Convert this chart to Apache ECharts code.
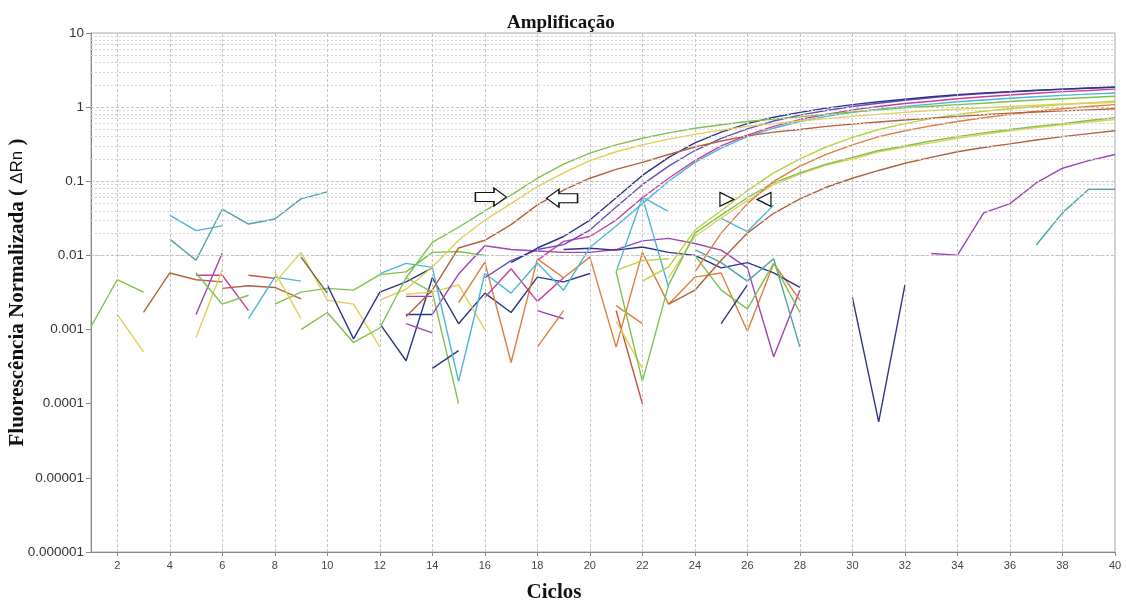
<!DOCTYPE html>
<html>
<head>
<meta charset="utf-8">
<title>Amplificação</title>
<script src="https://cdn.jsdelivr.net/npm/echarts@6/dist/echarts.min.js"></script>
<style>
  html, body { margin: 0; padding: 0; background: #fff; }
  #chart { width: 1126px; height: 600px; }
</style>
</head>
<body>
<div id="chart"></div>
<script>
// ticks dos eixos
const xTicks = [2, 4, 6, 8, 10, 12, 14, 16, 18, 20, 22, 24, 26, 28, 30, 32, 34, 36, 38, 40];
const yTickLabels = ['0.000001', '0.00001', '0.0001', '0.001', '0.01', '0.1', '1', '10'];

// curvas de amplificação  [ciclo, ΔRn]
const ampGreen = [[9,0.001],[10,0.0017],[11,0.00067],[12,0.00105],[13,0.005],[14,0.015],[15,0.024],[16,0.04],[17,0.065],[18,0.11],[19,0.17],[20,0.24],[21,0.31],[22,0.38],[23,0.45],[24,0.52],[25,0.58],[26,0.64],[27,0.69],[28,0.74],[29,0.8],[30,0.86],[31,0.92],[32,0.98],[33,1.03],[34,1.08],[35,1.13],[36,1.19],[37,1.25],[38,1.3],[39,1.35],[40,1.4]];
const ampYellow = [[12,0.0025],[13,0.0035],[14,0.007],[15,0.016],[16,0.03],[17,0.05],[18,0.085],[19,0.13],[20,0.19],[21,0.25],[22,0.31],[23,0.37],[24,0.43],[25,0.49],[26,0.55],[27,0.6],[28,0.65],[29,0.7],[30,0.75],[31,0.8],[32,0.85],[33,0.9],[34,0.94],[35,0.98],[36,1.02],[37,1.06],[38,1.1],[39,1.13],[40,1.16]];
const ampBrown = [[13,0.0015],[14,0.0034],[15,0.0126],[16,0.016],[17,0.026],[18,0.048],[19,0.076],[20,0.11],[21,0.145],[22,0.18],[23,0.23],[24,0.29],[25,0.35],[26,0.41],[27,0.46],[28,0.5],[29,0.55],[30,0.59],[31,0.63],[32,0.67],[33,0.71],[34,0.75],[35,0.79],[36,0.83],[37,0.86],[38,0.89],[39,0.92],[40,0.95]];
const ampNavy = [[17,0.008],[18,0.0126],[19,0.018],[20,0.03],[21,0.06],[22,0.12],[23,0.21],[24,0.33],[25,0.46],[26,0.6],[27,0.73],[28,0.85],[29,0.97],[30,1.08],[31,1.18],[32,1.28],[33,1.38],[34,1.47],[35,1.55],[36,1.62],[37,1.69],[38,1.75],[39,1.81],[40,1.87]];
const ampViolet = [[16,0.005],[17,0.0085],[18,0.012],[19,0.014],[20,0.022],[21,0.045],[22,0.09],[23,0.16],[24,0.26],[25,0.38],[26,0.51],[27,0.65],[28,0.78],[29,0.9],[30,1.02],[31,1.13],[32,1.24],[33,1.34],[34,1.44],[35,1.52],[36,1.6],[37,1.67],[38,1.74],[39,1.8],[40,1.85]];
const ampMagenta = [[18,0.0086],[19,0.0155],[20,0.018],[21,0.03],[22,0.06],[23,0.11],[24,0.19],[25,0.3],[26,0.42],[27,0.55],[28,0.68],[29,0.8],[30,0.92],[31,1.02],[32,1.12],[33,1.2],[34,1.3],[35,1.38],[36,1.46],[37,1.54],[38,1.62],[39,1.68],[40,1.75]];
const ampCyan = [[12,0.0057],[13,0.0078],[14,0.0069],[15,0.0002],[16,0.0057],[17,0.0031],[18,0.0079],[19,0.0034],[20,0.0128],[21,0.025],[22,0.05],[23,0.1],[24,0.18],[25,0.28],[26,0.4],[27,0.52],[28,0.64],[29,0.75],[30,0.85],[31,0.94],[32,1.02],[33,1.1],[34,1.18],[35,1.25],[36,1.32],[37,1.38],[38,1.44],[39,1.5],[40,1.55]];
const lateYellowGreen = [[22,0.0045],[23,0.007],[24,0.022],[25,0.04],[26,0.075],[27,0.13],[28,0.2],[29,0.29],[30,0.39],[31,0.5],[32,0.6],[33,0.7],[34,0.8],[35,0.88],[36,0.95],[37,1.02],[38,1.08],[39,1.14],[40,1.2]];
const lateOrange = [[24,0.006],[25,0.02],[26,0.05],[27,0.1],[28,0.16],[29,0.23],[30,0.31],[31,0.4],[32,0.48],[33,0.56],[34,0.64],[35,0.72],[36,0.8],[37,0.88],[38,0.95],[39,1.02],[40,1.08]];
const lateGreen = [[21,0.006],[22,0.0002],[23,0.004],[24,0.02],[25,0.035],[26,0.06],[27,0.095],[28,0.13],[29,0.17],[30,0.21],[31,0.26],[32,0.3],[33,0.35],[34,0.4],[35,0.45],[36,0.5],[37,0.55],[38,0.6],[39,0.66],[40,0.72]];
const lateYellow = [[23,0.005],[24,0.018],[25,0.032],[26,0.055],[27,0.09],[28,0.125],[29,0.165],[30,0.2],[31,0.25],[32,0.29],[33,0.33],[34,0.38],[35,0.43],[36,0.48],[37,0.53],[38,0.58],[39,0.63],[40,0.68]];
const lateBrown = [[23,0.0022],[24,0.0034],[25,0.0086],[26,0.02],[27,0.037],[28,0.058],[29,0.083],[30,0.11],[31,0.14],[32,0.175],[33,0.21],[34,0.25],[35,0.285],[36,0.32],[37,0.36],[38,0.4],[39,0.44],[40,0.48]];
const latePurple = [[33,0.0106],[34,0.0101],[35,0.0375],[36,0.05],[37,0.095],[38,0.15],[39,0.19],[40,0.23]];
const lateCyan = [[37,0.0138],[38,0.0375],[39,0.078],[40,0.078]];

// ruído da linha de base
const noise01 = [[1,0.0011],[2,0.0047],[3,0.0032]];
const noise02 = [[2,0.0016],[3,0.0005]];
const noise03 = [[3,0.0017],[4,0.0058],[5,0.0047],[6,0.0044]];
const noise04 = [[4,0.035],[5,0.0216],[6,0.025]];
const noise05 = [[4,0.0166],[5,0.0086],[6,0.042],[7,0.0265],[8,0.031],[9,0.058],[10,0.072]];
const noise06 = [[5,0.0016],[6,0.0108]];
const noise07 = [[5,0.0054],[6,0.0054],[7,0.0018]];
const noise08 = [[5,0.00078],[6,0.0064]];
const noise09 = [[5,0.0058],[6,0.0022],[7,0.0029]];
const noise10 = [[6,0.0036],[7,0.0039],[8,0.0037],[9,0.0026]];
const noise11 = [[7,0.0014],[8,0.0051],[9,0.0045]];
const noise12 = [[7,0.0054],[8,0.0049]];
const noise13 = [[8,0.0022],[9,0.0032],[10,0.0036],[11,0.0034],[12,0.0055],[13,0.006],[14,0.011],[15,0.0113],[16,0.01]];
const noise14 = [[8,0.0043],[9,0.011],[10,0.0025],[11,0.0022],[12,0.00058]];
const noise15 = [[9,0.0095],[10,0.0031]];
const noise16 = [[8,0.006],[9,0.0014]];
const noise17 = [[10,0.004],[11,0.00075],[12,0.0032],[13,0.0044],[14,0.0068]];
const noise18 = [[12,0.0012],[13,0.00038],[14,0.005],[15,0.0012],[16,0.0031],[17,0.0017],[18,0.0051],[19,0.0044],[20,0.0057]];
const noise19 = [[13,0.005],[14,0.0032],[15,0.0001]];
const noise20 = [[13,0.003],[14,0.0032],[15,0.004],[16,0.001]];
const noise21 = [[13,0.0028],[14,0.0028]];
const noise22 = [[13,0.0016],[14,0.0016]];
const noise23 = [[13,0.0012],[14,0.0009]];
const noise24 = [[14,0.0003],[15,0.00052]];
const noise25 = [[14,0.0016],[15,0.0056],[16,0.0135],[17,0.012],[18,0.0115],[19,0.011],[20,0.011],[21,0.012],[22,0.0157],[23,0.017],[24,0.0145],[25,0.0118],[26,0.0068],[27,0.00043],[28,0.0034]];
const noise26 = [[15,0.0023],[16,0.0081],[17,0.00036],[18,0.009],[19,0.005],[20,0.0095],[21,0.00058],[22,0.011],[23,0.0022],[24,0.0051],[25,0.0058],[26,0.00095],[27,0.0078],[28,0.0025]];
const noise27 = [[16,0.0027],[17,0.0066],[18,0.0024],[19,0.005]];
const noise28 = [[18,0.0018],[19,0.0014]];
const noise29 = [[18,0.00058],[19,0.0018]];
const noise30 = [[19,0.012],[20,0.0125],[21,0.0118],[22,0.013],[23,0.011],[24,0.01],[25,0.0068],[26,0.008],[27,0.0058],[28,0.0037]];
const noise31 = [[21,0.0018],[22,0.0001]];
const noise32 = [[21,0.0021],[22,0.0012]];
const noise33 = [[21,0.006],[22,0.061],[23,0.0037]];
const noise34 = [[22,0.061],[23,0.039]];
const noise35 = [[25,0.0315],[26,0.021],[27,0.0479]];
const noise36 = [[24,0.012],[25,0.008],[26,0.0045],[27,0.009],[28,0.00058]];
const noise37 = [[24,0.01],[25,0.0034],[26,0.0019],[27,0.0078],[28,0.0017]];
const noise38 = [[25,0.0012],[26,0.004]];
const noise39 = [[30,0.0027],[31,0.000057],[32,0.004]];
const noise40 = [[21,0.0063],[22,0.0085],[23,0.009]];
const noise41 = [[21,0.0013],[22,0.0003]];

// setas (ciclo, ΔRn)
const arrowMarks = [
  { coord: [16.23, 0.0614], kind: 'block', rotate: 0 },
  { coord: [18.94, 0.059], kind: 'block', rotate: 180 },
  { coord: [25.22, 0.057], kind: 'tri', rotate: 0 },
  { coord: [26.63, 0.057], kind: 'tri', rotate: 180 }
];

const COLORS = {
  green: '#7cc24e', yellowgreen: '#b9d23c', yellow: '#e2cf52', orange: '#e07e3c',
  brown: '#b4623e', red: '#c8503c', purple: '#9b45b8', magenta: '#c6409c',
  violet: '#6a4cc0', navy: '#2e3488', cyan: '#4cb6d8', teal: '#4fa2a8', olive: '#6a6a50'
};

const lines = [
  [noise01, 'green'], [noise02, 'yellow'], [noise03, 'brown'], [noise04, 'cyan'], [noise05, 'teal'],
  [noise06, 'purple'], [noise07, 'magenta'], [noise08, 'yellow'], [noise09, 'green'], [noise10, 'brown'],
  [noise11, 'cyan'], [noise12, 'red'], [noise13, 'green'], [noise14, 'yellow'], [noise15, 'olive'],
  [noise16, 'yellow'], [noise17, 'navy'], [noise18, 'navy'], [noise19, 'green'], [noise20, 'yellow'],
  [noise21, 'purple'], [noise22, 'navy'], [noise23, 'purple'], [noise24, 'navy'], [noise25, 'purple'],
  [noise26, 'orange'], [noise27, 'magenta'], [noise28, 'purple'], [noise29, 'orange'], [noise30, 'navy'],
  [noise31, 'red'], [noise32, 'orange'], [noise33, 'cyan'], [noise34, 'cyan'], [noise35, 'cyan'],
  [noise36, 'teal'], [noise37, 'green'], [noise38, 'navy'], [noise39, 'navy'], [noise40, 'yellowgreen'],
  [noise41, 'yellow'],
  [latePurple, 'purple'], [lateCyan, 'teal'],
  [lateBrown, 'brown'], [lateYellow, 'yellow'], [lateGreen, 'green'], [lateOrange, 'orange'], [lateYellowGreen, 'yellowgreen'],
  [ampCyan, 'cyan'], [ampMagenta, 'magenta'], [ampViolet, 'violet'], [ampNavy, 'navy'],
  [ampBrown, 'brown'], [ampYellow, 'yellow'], [ampGreen, 'green']
];

// linhas de grade menores (2..9 em cada década)
const minorGrid = [];
for (let e = -6; e < 1; e++) {
  for (let k = 2; k <= 9; k++) minorGrid.push({ yAxis: k * Math.pow(10, e) });
}
const majorGrid = [];
for (let e = -5; e <= 0; e++) majorGrid.push({ yAxis: Math.pow(10, e) });

const chart = echarts.init(document.getElementById('chart'));

const series = [
  {
    type: 'line', data: [], silent: true, z: 1,
    markLine: {
      silent: true, symbol: 'none', label: { show: false }, animation: false,
      lineStyle: { color: '#d4d4d4', type: [2, 2], width: 1 },
      data: minorGrid
    }
  },
  {
    type: 'line', data: [], silent: true, z: 1,
    markLine: {
      silent: true, symbol: 'none', label: { show: false }, animation: false,
      lineStyle: { color: '#c4c4c4', type: [3, 2], width: 1 },
      data: majorGrid.concat(xTicks.slice(0, -1).map(v => ({ xAxis: v })))
    }
  }
];

lines.forEach(([data, c]) => {
  series.push({
    type: 'line',
    data: data,
    showSymbol: false,
    silent: true,
    lineStyle: { width: 1.4, color: COLORS[c] },
    z: 3
  });
});

series.push({
  type: 'line', data: [], silent: true, z: 10,
  markPoint: {
    silent: true, animation: false,
    label: { show: false },
    data: arrowMarks.map(m => ({
      coord: m.coord,
      symbol: m.kind === 'block'
        ? 'path://M0,3L12,3L12,0L20,6L12,12L12,9L0,9Z'
        : 'path://M0,0L10,6L0,12Z',
      symbolSize: m.kind === 'block' ? [31, 18] : [14, 14],
      symbolRotate: m.rotate,
      itemStyle: { color: '#fff', borderColor: '#111', borderWidth: 1.2 }
    }))
  }
});

chart.setOption({
  animation: false,
  backgroundColor: '#fff',
  title: {
    text: 'Amplificação',
    left: 502, top: 9,
    textStyle: { fontFamily: 'Liberation Serif', fontWeight: 'bold', fontSize: 19, color: '#111' }
  },
  grid: {
    left: 91, right: 11, top: 33, bottom: 48,
    containLabel: false, outerBoundsMode: 'none',
    show: true, borderColor: '#a8a8a8', borderWidth: 1, backgroundColor: '#fff'
  },
  xAxis: {
    type: 'value', min: 1, max: 40,
    name: 'Ciclos', nameLocation: 'middle', nameGap: 30, nameMoveOverlap: false,
    nameTextStyle: { fontFamily: 'Liberation Serif', fontWeight: 'bold', fontSize: 21, color: '#111', padding: [0, 98, 0, 0] },
    axisLine: { lineStyle: { color: '#888' } },
    axisTick: { customValues: xTicks, length: 4, lineStyle: { color: '#888' } },
    axisLabel: { customValues: xTicks, color: '#444', fontSize: 11, fontFamily: 'Liberation Sans', margin: 8 },
    splitLine: { show: false }
  },
  yAxis: {
    type: 'log', logBase: 10, min: 0.000001, max: 10, splitNumber: 7,
    name: 'Fluorescência Normalizada ( {s|ΔRn} )', nameLocation: 'middle', nameGap: 63, nameMoveOverlap: false,
    nameTextStyle: {
      fontFamily: 'Liberation Serif', fontWeight: 'bold', fontSize: 21, color: '#111',
      rich: { s: { fontFamily: 'Liberation Sans', fontWeight: 'normal', fontSize: 17, color: '#111' } }
    },
    axisLine: { show: true, lineStyle: { color: '#888' } },
    axisTick: { show: true, length: 5, lineStyle: { color: '#888' } },
    axisLabel: {
      color: '#333', fontSize: 13.5, fontFamily: 'Liberation Sans', margin: 7,
      formatter: v => yTickLabels[Math.round(Math.log10(v)) + 6]
    },
    splitLine: { show: false }
  },
  series: series
});
</script>
</body>
</html>
